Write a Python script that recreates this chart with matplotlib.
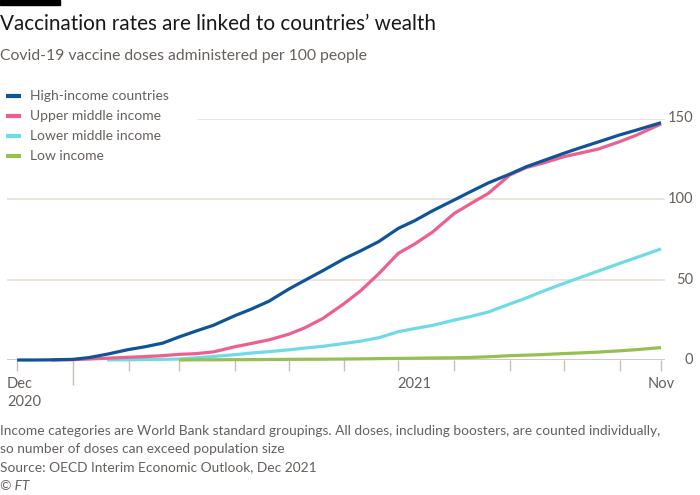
import numpy as np
import pandas as pd
import matplotlib
matplotlib.use("Agg")
import matplotlib.pyplot as plt
import matplotlib.dates as mdates

# readings of doses per 100 people (1st, 10th, 20th of each month)
dates = pd.to_datetime([
    "2020-12-01", "2020-12-10", "2020-12-20",
    "2021-01-01", "2021-01-10", "2021-01-20",
    "2021-02-01", "2021-02-10", "2021-02-20",
    "2021-03-01", "2021-03-10", "2021-03-20",
    "2021-04-01", "2021-04-10", "2021-04-20",
    "2021-05-01", "2021-05-10", "2021-05-20",
    "2021-06-01", "2021-06-10", "2021-06-20",
    "2021-07-01", "2021-07-10", "2021-07-20",
    "2021-08-01", "2021-08-10", "2021-08-20",
    "2021-09-01", "2021-09-10", "2021-09-20",
    "2021-10-01", "2021-10-10", "2021-10-20",
    "2021-11-01", "2021-11-10", "2021-11-24",
])
nan = np.nan
high_income = [0, 0, 0.1,
               0.4, 1.5, 3.6,
               6.5, 8.2, 10.5,
               14.3, 17.8, 21.5,
               27.5, 31.5, 36.5,
               44, 49.5, 55.5,
               63, 67.8, 73.5,
               81.8, 86.5, 92.7,
               99.4, 104.5, 110,
               115.5, 120, 124,
               128.4, 131.8, 135.4,
               139.8, 142.7, 147.4]
upper_middle = [nan, nan, 0,
                0.2, 0.6, 1.1,
                1.7, 2.1, 2.7,
                3.5, 3.9, 5.0,
                8.2, 10.2, 12.5,
                16, 20, 25.8,
                35.2, 43, 53.5,
                66.3, 72, 79.5,
                91, 97, 103.5,
                115, 119.5, 122.5,
                126.3, 128.5, 131,
                135.6, 139.5, 146.6]
lower_middle = [nan, nan, nan,
                nan, nan, 0.05,
                0.15, 0.25, 0.4,
                0.6, 1.3, 2.2,
                3.3, 4.3, 5.2,
                6.3, 7.4, 8.5,
                10.3, 11.7, 13.8,
                17.6, 19.5, 21.5,
                24.8, 27, 29.8,
                34.8, 38.5, 43,
                47.6, 51.2, 55.2,
                60, 63.5, 69]
low_income = [nan, nan, nan,
              nan, nan, nan,
              nan, nan, nan,
              0, 0.1, 0.15,
              0.2, 0.25, 0.3,
              0.4, 0.45, 0.5,
              0.6, 0.7, 0.85,
              1.0, 1.1, 1.25,
              1.4, 1.6, 2.0,
              2.7, 3.0, 3.4,
              4.0, 4.4, 4.9,
              5.7, 6.4, 7.7]

labels = ["High-income countries", "Upper middle income",
          "Lower middle income", "Low income"]
colors = ["#0f5499", "#ee5f8e", "#6fdbe6", "#96c152"]
yticks = [0, 50, 100, 150]

W, H = 700, 495
plt.rcParams["font.family"] = ["Lato", "DejaVu Sans"]

fig = plt.figure(figsize=(W / 100, H / 100), dpi=100)
fig.patch.set_facecolor("white")


def fx(x):
    return x / W


def fy(y):
    return 1 - y / H


# plot area in pixels: x 7..665, y 118.5..360
ax = fig.add_axes([fx(7), fy(360), (665 - 7) / W, (360 - 118.5) / H])
ax.set_facecolor("none")
x0 = mdates.date2num(pd.Timestamp("2020-12-01")) - 5.6
x1 = mdates.date2num(pd.Timestamp("2021-11-24")) + 2.2
ax.set_xlim(x0, x1)
ax.set_ylim(0, 150)
for s in ax.spines.values():
    s.set_visible(False)

grid_c = "#e9e0d7"
ax.axhline(50, color=grid_c, lw=1.2, zorder=1)
ax.axhline(100, color=grid_c, lw=1.2, zorder=1)
ax.axhline(150, xmin=(198 - 7) / 658, color=grid_c, lw=1.2, zorder=1)
ax.axhline(0, color="#c9bfb6", lw=1.2, zorder=1)

series = [high_income, upper_middle, lower_middle, low_income]
zorders = [5, 4, 3, 6]
for vals, lab, c, z in zip(series, labels, colors, zorders):
    ax.plot(dates, vals, color=c, lw=2.3, label=lab, zorder=z,
            clip_on=False, solid_capstyle="butt", solid_joinstyle="round")

# month ticks; Jan 1 is the long one
months = pd.date_range("2020-12-01", "2021-11-01", freq="MS").append(
    pd.DatetimeIndex(["2021-11-24"]))
minor = [m for m in months if not (m.month == 1 and m.day == 1)]
ax.set_xticks([pd.Timestamp("2021-01-01")])
ax.set_xticks(minor, minor=True)
ax.tick_params(axis="x", which="major", length=18, width=1, color="#c9bfb6",
               labelbottom=False)
ax.tick_params(axis="x", which="minor", length=8, width=1, color="#c9bfb6",
               labelbottom=False)
ax.set_yticks([])

tick_c = "#66605c"
for v in yticks:
    ypix = 360 - v * (360 - 118.5) / 150
    fig.text(fx(693), fy(ypix), str(v), ha="right", va="center",
             fontsize=10.5, color=tick_c)

fig.text(fx(7), fy(384), "Dec", ha="left", va="center", fontsize=10.5, color=tick_c)
fig.text(fx(7), fy(402), "2020", ha="left", va="center", fontsize=10.5, color=tick_c)
fig.text(fx(397), fy(384), "2021", ha="left", va="center", fontsize=10.5, color=tick_c)
fig.text(fx(661), fy(384), "Nov", ha="center", va="center", fontsize=10.5, color=tick_c)

# legend drawn by hand to match the layout
for i, (lab, c) in enumerate(zip(labels, colors)):
    ypix = 95.5 + i * 20.2
    fig.add_artist(plt.Line2D([fx(6), fx(21)], [fy(ypix), fy(ypix)],
                              color=c, lw=3, solid_capstyle="butt"))
    fig.text(fx(30), fy(ypix), lab, ha="left", va="center", fontsize=10,
             color=tick_c)

# top black bar
fig.add_artist(plt.Rectangle((0, fy(4.5)), fx(60), 4.5 / H, color="#000000",
                             transform=fig.transFigure))

fig.text(fx(0), fy(24), "Vaccination rates are linked to countries\u2019 wealth",
         ha="left", va="center", fontsize=14.9, color="#1a1817")
fig.text(fx(0), fy(56), "Covid-19 vaccine doses administered per 100 people",
         ha="left", va="center", fontsize=11.3, color="#66605c")

notes = [
    "Income categories are World Bank standard groupings. All doses, including boosters, are counted individually,",
    "so number of doses can exceed population size",
    "Source: OECD Interim Economic Outlook, Dec 2021",
]
for i, t in enumerate(notes):
    fig.text(fx(0), fy(431 + i * 18.2), t, ha="left", va="center",
             fontsize=9.9, color="#66605c")
fig.text(fx(0), fy(486), "\u00a9 FT", ha="left", va="center", fontsize=9.9,
         color="#66605c", style="italic")

fig.savefig("out.png", dpi=100)
